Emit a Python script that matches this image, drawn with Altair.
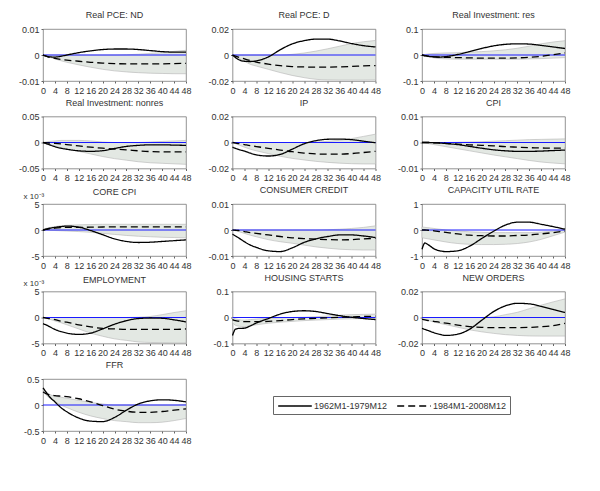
import altair as alt
import pandas as pd

MONTHS = [0, 1, 2, 4, 6, 8, 12, 16, 20, 24, 28, 32, 36, 40, 44, 48]
X_TICKS = [0, 4, 8, 12, 16, 20, 24, 28, 32, 36, 40, 44, 48]
SERIES = ["1962M1-1979M12", "1984M1-2008M12"]
ZERO = [0]

TITLES = ["Real PCE: ND", "Real PCE: D", "Real Investment: res",
          "Real Investment: nonres", "IP", "CPI",
          "CORE CPI", "CONSUMER CREDIT", "CAPACITY UTIL RATE",
          "EMPLOYMENT", "HOUSING STARTS", "NEW ORDERS", "FFR"]
Y_LIMITS = [0.01, 0.02, 0.1, 0.05, 0.02, 0.01, 5, 0.01, 1, 5, 0.1, 0.02, 0.5]
Y_NOTES = ["", "", "", "", "", "", "x 10⁻³", "", "", "x 10⁻³", "", "", ""]

# Real PCE: ND
PCE_ND_EARLY = [0, -0.0004, -0.0007, -0.0008, -0.0005, 0.0, 0.0009, 0.0016, 0.0021, 0.0023, 0.0023, 0.0021, 0.0017, 0.0013, 0.0011, 0.0011]
PCE_ND_LATE = [0, -0.0004, -0.0008, -0.0013, -0.0017, -0.002, -0.0024, -0.0028, -0.0031, -0.0033, -0.0034, -0.0034, -0.0034, -0.0034, -0.0033, -0.0032]
PCE_ND_LO = [0, -0.0004, -0.0008, -0.0015, -0.0022, -0.0028, -0.0038, -0.0047, -0.0055, -0.0061, -0.0065, -0.0068, -0.007, -0.0071, -0.0072, -0.0072]
PCE_ND_HI = [0, 0, 0, 0, 0, 0, 0, 0, 0, 0, 0.0001, 0.0003, 0.0006, 0.001, 0.0014, 0.0018]

# Real PCE: D
PCE_D_EARLY = [0, -0.002, -0.0035, -0.0048, -0.005, -0.0045, -0.0015, 0.004, 0.0085, 0.011, 0.0122, 0.0122, 0.0108, 0.0088, 0.0072, 0.0062]
PCE_D_LATE = [0, -0.0008, -0.0016, -0.003, -0.0043, -0.0054, -0.007, -0.0082, -0.0089, -0.0092, -0.0093, -0.0093, -0.0091, -0.0088, -0.0084, -0.0081]
PCE_D_LO = [0, -0.0012, -0.0024, -0.0048, -0.0072, -0.0085, -0.011, -0.0135, -0.0157, -0.0174, -0.0187, -0.0192, -0.0193, -0.0193, -0.0193, -0.0192]
PCE_D_HI = [0, 0, 0, 0, 0, 0, 0, 0, 0.0005, 0.0015, 0.003, 0.0048, 0.0068, 0.0088, 0.0102, 0.0112]

# Real Investment: res
RES_EARLY = [0, -0.003, -0.005, -0.007, -0.008, -0.006, 0.002, 0.013, 0.025, 0.035, 0.041, 0.043, 0.042, 0.037, 0.031, 0.025]
RES_LATE = [0, -0.002, -0.004, -0.007, -0.008, -0.009, -0.01, -0.011, -0.012, -0.012, -0.012, -0.011, -0.009, -0.005, 0.001, 0.008]
RES_LO = [0, -0.004, -0.007, -0.011, -0.014, -0.015, -0.016, -0.016, -0.016, -0.016, -0.016, -0.016, -0.015, -0.014, -0.012, -0.01]
RES_HI = [0, 0.002, 0.004, 0.006, 0.007, 0.008, 0.009, 0.011, 0.013, 0.016, 0.02, 0.026, 0.034, 0.043, 0.05, 0.055]

# Real Investment: nonres
NONRES_EARLY = [0, -0.002, -0.004, -0.008, -0.011, -0.013, -0.016, -0.017, -0.0158, -0.0115, -0.0075, -0.0055, -0.0045, -0.0045, -0.005, -0.0055]
NONRES_LATE = [0, -0.0005, -0.001, -0.0015, -0.0025, -0.004, -0.0065, -0.009, -0.011, -0.0125, -0.014, -0.016, -0.0175, -0.018, -0.018, -0.018]
NONRES_LO = [0, -0.002, -0.004, -0.007, -0.01, -0.012, -0.017, -0.022, -0.027, -0.031, -0.034, -0.037, -0.039, -0.04, -0.041, -0.042]
NONRES_HI = [0, 0.001, 0.002, 0.003, 0.004, 0.004, 0.004, 0.003, 0.001, 0, 0, 0, 0.001, 0.002, 0.003, 0.004]

# IP
IP_EARLY = [-0.0036, -0.0045, -0.0053, -0.0066, -0.0082, -0.0095, -0.0104, -0.0092, -0.0052, -0.001, 0.0014, 0.0025, 0.0026, 0.0022, 0.001, -0.0002]
IP_LATE = [0, -0.0004, -0.0008, -0.0016, -0.0024, -0.0031, -0.0045, -0.0058, -0.0071, -0.0081, -0.0088, -0.009, -0.009, -0.0085, -0.0077, -0.0068]
IP_LO = [0, -0.0009, -0.0018, -0.0036, -0.0052, -0.0064, -0.0085, -0.0106, -0.0122, -0.0134, -0.0145, -0.0153, -0.0159, -0.0163, -0.0165, -0.0165]
IP_HI = [0, 0, 0, 0, 0, 0, 0, 0, 0, 0, 0.0003, 0.0009, 0.0017, 0.003, 0.0047, 0.0064]

# CPI
CPI_EARLY = [0, 0, 0, -0.0001, -0.0002, -0.0004, -0.0008, -0.0015, -0.0022, -0.0028, -0.0032, -0.0034, -0.0034, -0.0033, -0.0031, -0.0029]
CPI_LATE = [0, 0, 0, -0.0001, -0.0002, -0.0003, -0.0006, -0.0009, -0.0011, -0.0013, -0.0016, -0.0018, -0.002, -0.0021, -0.0022, -0.0022]
CPI_LO = [0, -0.0002, -0.0004, -0.0008, -0.0012, -0.0016, -0.0024, -0.0032, -0.004, -0.0048, -0.0055, -0.0062, -0.0069, -0.0075, -0.0079, -0.0082]
CPI_HI = [0, 0, 0, 0, 0, 0, 0.0001, 0.0002, 0.0003, 0.0005, 0.0007, 0.0009, 0.0011, 0.0012, 0.0013, 0.0014]

# CORE CPI (x 10^-3)
CORE_EARLY = [0, 0.15, 0.3, 0.5, 0.65, 0.75, 0.55, -0.1, -0.9, -1.7, -2.2, -2.4, -2.35, -2.2, -2.05, -1.9]
CORE_LATE = [0, 0.1, 0.2, 0.35, 0.45, 0.5, 0.5, 0.55, 0.58, 0.6, 0.6, 0.6, 0.6, 0.6, 0.6, 0.6]
CORE_LO = [0, 0, -0.05, -0.1, -0.15, -0.2, -0.3, -0.45, -0.65, -0.85, -1.05, -1.2, -1.3, -1.4, -1.45, -1.5]
CORE_HI = [0.1, 0.3, 0.45, 0.65, 0.8, 0.9, 1.0, 1.05, 1.1, 1.1, 1.1, 1.1, 1.1, 1.1, 1.1, 1.1]

# CONSUMER CREDIT
CREDIT_EARLY = [-0.0016, -0.0023, -0.003, -0.0045, -0.0058, -0.0067, -0.008, -0.0083, -0.0069, -0.0048, -0.0034, -0.0025, -0.0019, -0.0019, -0.0023, -0.0029]
CREDIT_LATE = [0, -0.0001, -0.0002, -0.0006, -0.001, -0.0013, -0.0019, -0.0025, -0.003, -0.0033, -0.0035, -0.0037, -0.0038, -0.0037, -0.0034, -0.0032]
CREDIT_LO = [0, -0.0003, -0.0006, -0.0013, -0.002, -0.0026, -0.0037, -0.0045, -0.0051, -0.0058, -0.0065, -0.007, -0.0074, -0.0076, -0.0077, -0.0077]
CREDIT_HI = [0, 0, 0, 0, 0, 0, 0, 0, 0, 0, 0, 0.0001, 0.0003, 0.0006, 0.001, 0.0016]

# CAPACITY UTIL RATE
CAPU_EARLY = [-0.74, -0.5, -0.56, -0.72, -0.8, -0.83, -0.8, -0.62, -0.33, -0.05, 0.19, 0.3, 0.3, 0.22, 0.13, 0.03]
CAPU_LATE = [0, 0, -0.01, -0.03, -0.06, -0.09, -0.15, -0.2, -0.22, -0.23, -0.23, -0.21, -0.19, -0.15, -0.1, -0.04]
CAPU_LO = [-0.3, -0.32, -0.34, -0.38, -0.42, -0.46, -0.52, -0.55, -0.56, -0.56, -0.55, -0.52, -0.46, -0.36, -0.22, -0.08]
CAPU_HI = [0.12, 0.1, 0.09, 0.06, 0.03, 0.0, -0.04, -0.07, -0.09, -0.1, -0.1, -0.1, -0.1, -0.08, -0.05, 0.0]

# EMPLOYMENT (x 10^-3)
EMP_EARLY = [-1.2, -1.4, -1.7, -2.3, -2.7, -3.0, -3.25, -3.0, -2.2, -1.3, -0.6, -0.2, -0.1, -0.15, -0.45, -0.85]
EMP_LATE = [0, -0.1, -0.2, -0.4, -0.7, -0.9, -1.4, -1.8, -2.1, -2.2, -2.3, -2.3, -2.3, -2.3, -2.3, -2.2]
EMP_LO = [0, -0.15, -0.3, -0.65, -1.0, -1.4, -2.2, -3.0, -3.6, -4.1, -4.4, -4.7, -4.8, -4.85, -4.9, -4.9]
EMP_HI = [0, 0, 0, 0, 0, 0, 0, 0, 0, 0, 0, 0.05, 0.2, 0.55, 0.95, 1.3]

# HOUSING STARTS
HOUS_EARLY = [-0.069, -0.045, -0.042, -0.041, -0.032, -0.021, -0.004, 0.013, 0.023, 0.026, 0.023, 0.015, 0.007, 0.001, -0.004, -0.008]
HOUS_LATE = [-0.008, -0.012, -0.014, -0.016, -0.016, -0.016, -0.015, -0.012, -0.008, -0.005, -0.003, -0.001, 0.001, 0.002, 0.004, 0.005]
HOUS_LO = [-0.02, -0.03, -0.033, -0.035, -0.032, -0.028, -0.022, -0.018, -0.015, -0.012, -0.01, -0.008, -0.006, -0.005, -0.004, -0.004]
HOUS_HI = [0, -0.005, -0.008, -0.01, -0.008, -0.006, -0.003, -0.001, 0, 0.001, 0.003, 0.006, 0.009, 0.011, 0.012, 0.013]

# NEW ORDERS
ORD_EARLY = [-0.0083, -0.0092, -0.01, -0.0117, -0.013, -0.0138, -0.0128, -0.009, -0.0022, 0.0045, 0.009, 0.0109, 0.0105, 0.0085, 0.0062, 0.0039]
ORD_LATE = [-0.0013, -0.0018, -0.0023, -0.003, -0.0037, -0.0043, -0.0058, -0.007, -0.0076, -0.0078, -0.0078, -0.0078, -0.0076, -0.0071, -0.0062, -0.0045]
ORD_LO = [-0.0008, -0.0015, -0.0022, -0.0035, -0.0045, -0.0055, -0.0075, -0.0095, -0.011, -0.0122, -0.0132, -0.0138, -0.0142, -0.0143, -0.0143, -0.0143]
ORD_HI = [0, 0, 0, 0, 0, 0, 0, 0, 0, 0.0005, 0.0022, 0.004, 0.0068, 0.0095, 0.012, 0.0143]

# FFR
FFR_EARLY = [0.33, 0.25, 0.17, 0.06, -0.05, -0.13, -0.25, -0.31, -0.32, -0.24, -0.1, 0.02, 0.08, 0.1, 0.09, 0.06]
FFR_LATE = [0.25, 0.22, 0.2, 0.18, 0.17, 0.16, 0.12, 0.06, -0.01, -0.08, -0.12, -0.14, -0.14, -0.125, -0.1, -0.075]
FFR_LO = [0.3, 0.2, 0.14, 0.07, 0.0, -0.05, -0.14, -0.21, -0.26, -0.3, -0.32, -0.34, -0.34, -0.33, -0.3, -0.26]
FFR_HI = [0.3, 0.25, 0.21, 0.17, 0.15, 0.13, 0.09, 0.05, 0.02, 0.0, 0.0, 0.0, 0.0, 0.0, 0.0, 0.01]

EARLY = [PCE_ND_EARLY, PCE_D_EARLY, RES_EARLY, NONRES_EARLY, IP_EARLY, CPI_EARLY,
         CORE_EARLY, CREDIT_EARLY, CAPU_EARLY, EMP_EARLY, HOUS_EARLY, ORD_EARLY, FFR_EARLY]
LATE = [PCE_ND_LATE, PCE_D_LATE, RES_LATE, NONRES_LATE, IP_LATE, CPI_LATE,
        CORE_LATE, CREDIT_LATE, CAPU_LATE, EMP_LATE, HOUS_LATE, ORD_LATE, FFR_LATE]
BAND_LO = [PCE_ND_LO, PCE_D_LO, RES_LO, NONRES_LO, IP_LO, CPI_LO,
           CORE_LO, CREDIT_LO, CAPU_LO, EMP_LO, HOUS_LO, ORD_LO, FFR_LO]
BAND_HI = [PCE_ND_HI, PCE_D_HI, RES_HI, NONRES_HI, IP_HI, CPI_HI,
           CORE_HI, CREDIT_HI, CAPU_HI, EMP_HI, HOUS_HI, ORD_HI, FFR_HI]

FONT = "Liberation Sans"
TXT = "#333333"
W, H = 143, 52


def x_enc():
    return alt.X("month:Q",
                 scale=alt.Scale(domain=[0, 48], nice=False, zero=False),
                 axis=alt.Axis(values=X_TICKS, title=None, labelAngle=0, labelFlush=False,
                               labelOverlap=False, grid=False, domain=False, tickSize=2,
                               labelPadding=3, labelFontSize=9, labelFont=FONT,
                               labelColor=TXT, tickColor="#666"))


def y_enc(field, lim, note):
    kw = dict(values=[-lim, 0, lim], labelExpr="'' + datum.value", grid=False, domain=False,
              tickSize=2, labelPadding=2, labelFontSize=9, labelFont=FONT, labelColor=TXT,
              tickColor="#666")
    if note:
        kw.update(title=note, titleAngle=0, titleAlign="left", titleBaseline="alphabetic",
                  titleX=-20, titleY=-6, titleFontSize=8, titleFontWeight="normal",
                  titleFont=FONT, titleColor=TXT)
    else:
        kw["title"] = None
    return alt.Y(f"{field}:Q", scale=alt.Scale(domain=[-lim, lim], nice=False, zero=False),
                 axis=alt.Axis(**kw))


LEGEND = alt.Legend(title=None, orient="none", legendX=230, legendY=367,
                    direction="horizontal", symbolType="M-0.8,0H4.8", symbolSize=144,
                    symbolStrokeWidth=1.4, symbolStrokeColor="black", labelFontSize=9,
                    labelFont=FONT, labelColor=TXT, strokeColor="#666", padding=3,
                    columnPadding=6, labelOffset=24)


def panel(i):
    lim, note = Y_LIMITS[i], Y_NOTES[i]
    band = pd.DataFrame({"month": MONTHS, "lo": BAND_LO[i], "hi": BAND_HI[i]})
    lines = pd.concat([
        pd.DataFrame({"month": MONTHS, "value": EARLY[i], "sample": SERIES[0]}),
        pd.DataFrame({"month": MONTHS, "value": LATE[i], "sample": SERIES[1]}),
    ])
    zero = pd.DataFrame({"value": ZERO})
    area = alt.Chart(band).mark_area(color="#e3e8e3", stroke="#b4b4b4", strokeWidth=0.6,
                                     interpolate="monotone").encode(
        x=x_enc(), y=y_enc("lo", lim, note), y2="hi:Q")
    rule = alt.Chart(zero).mark_rule(color="#1a1aff", strokeWidth=1).encode(
        y=y_enc("value", lim, note))
    ln = alt.Chart(lines).mark_line(color="black", strokeWidth=1.3,
                                    interpolate="monotone").encode(
        x=x_enc(), y=y_enc("value", lim, note),
        strokeDash=alt.StrokeDash("sample:N",
                                  scale=alt.Scale(domain=SERIES, range=[[1, 0], [7, 4]]),
                                  legend=LEGEND))
    title_offset = -5 if note else 5
    return alt.layer(area, rule, ln).properties(
        width=W, height=H,
        title=alt.TitleParams(TITLES[i], fontSize=9, fontWeight="normal", font=FONT,
                              color=TXT, offset=title_offset, frame="group"))


charts = [panel(i) for i in range(13)]
chart = alt.concat(*charts, columns=3, bounds="flush",
                   spacing={"row": 35.5, "column": 46.5}).properties(
    padding={"left": 10, "top": 2, "right": 5, "bottom": 5},
    background="white",
).configure_view(stroke="#777", strokeWidth=0.8)

chart.save("out.html", embed_options={"renderer": "svg", "actions": False})
